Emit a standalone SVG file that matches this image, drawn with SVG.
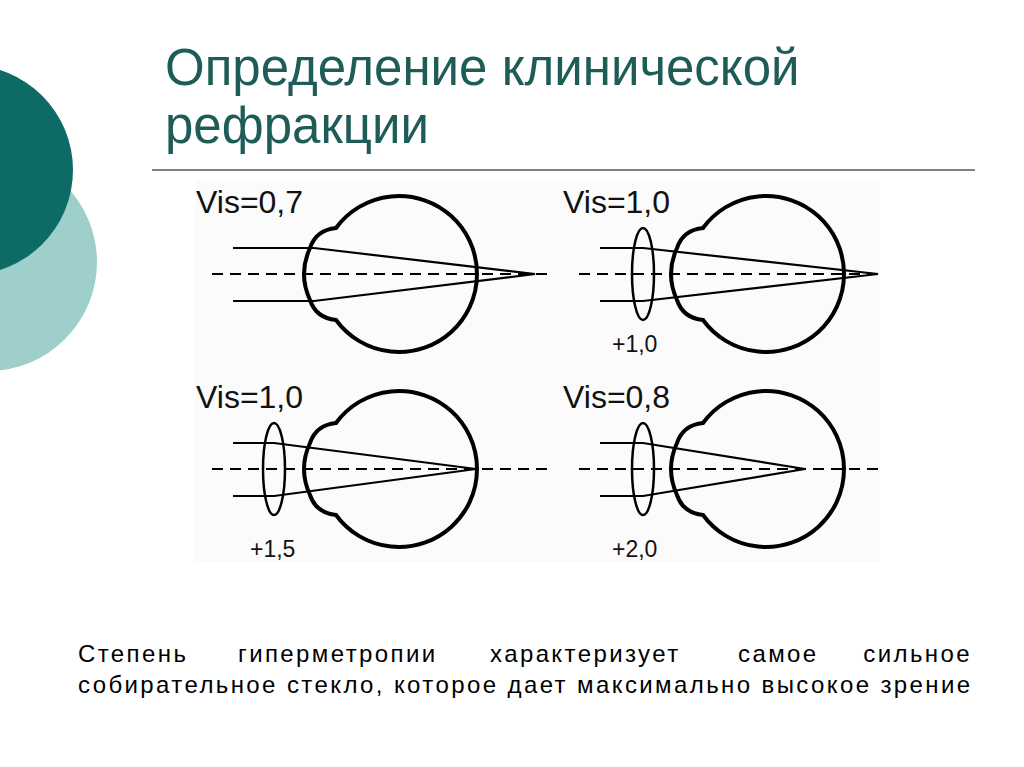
<svg xmlns="http://www.w3.org/2000/svg" width="1024" height="767" viewBox="0 0 1024 767">
<defs>
<style>
.eye{fill:none;stroke:#000;stroke-width:4}
.ray{fill:none;stroke:#000;stroke-width:2.2}
.axis{fill:none;stroke:#000;stroke-width:1.8;stroke-dasharray:11 7}
.vis{font-family:"Liberation Sans",Arial,sans-serif;font-size:32px;fill:#111}
.pw{font-family:"Liberation Sans",Arial,sans-serif;font-size:23px;fill:#111}
.body{font-family:"Liberation Sans",Arial,sans-serif;font-size:24px;fill:#000;letter-spacing:2.4px}
</style>
<g id="eyeShape">
<path class="eye" d="M336,228 A78,78 0 1,1 336,320 Q316,318 310,300 Q298,274 310,248 Q316,230 336,228 Z"/>
</g>
</defs>
<rect width="1024" height="767" fill="#fff"/>
<circle cx="-12" cy="262" r="109" fill="#9fcfcb"/>
<circle cx="-32" cy="170" r="105" fill="#0e6a64"/>
<text x="165" y="85" font-family="Liberation Sans,Arial,sans-serif" font-size="51" fill="#1d5c57">Определение клинической</text>
<text x="165" y="143" font-family="Liberation Sans,Arial,sans-serif" font-size="51" fill="#1d5c57">рефракции</text>
<line x1="152" y1="170" x2="975" y2="170" stroke="#000" stroke-width="1.2"/>
<rect x="195" y="180" width="685" height="382" fill="#fbfbfb"/>
<g id="eye1">
<text class="vis" x="196" y="213">Vis=0,7</text>
<use href="#eyeShape"/>
<line class="axis" x1="212" y1="274" x2="550" y2="274"/>
<polyline class="ray" points="233,248 314,248 535,274 314,301 233,301"/>
</g>
<g id="eye2" transform="translate(367,0)">
<text class="vis" x="196" y="213">Vis=1,0</text>
<use href="#eyeShape"/>
<line class="axis" x1="212" y1="274" x2="513" y2="274"/>
<ellipse class="eye" cx="276" cy="274" rx="11" ry="46" style="stroke-width:2.5"/>
<polyline class="ray" points="233,248 276,248 511,274 276,301 233,301"/>
<text class="pw" x="245" y="352">+1,0</text>
</g>
<g id="eye3" transform="translate(0,195)">
<text class="vis" x="196" y="213">Vis=1,0</text>
<use href="#eyeShape"/>
<line class="axis" x1="212" y1="274" x2="550" y2="274"/>
<ellipse class="eye" cx="274" cy="274" rx="11" ry="46" style="stroke-width:2.5"/>
<polyline class="ray" points="233,248 274,248 476,274 274,301 233,301"/>
<text class="pw" x="250" y="362">+1,5</text>
</g>
<g id="eye4" transform="translate(367,195)">
<text class="vis" x="196" y="213">Vis=0,8</text>
<use href="#eyeShape"/>
<line class="axis" x1="212" y1="274" x2="513" y2="274"/>
<ellipse class="eye" cx="276" cy="274" rx="11" ry="46" style="stroke-width:2.5"/>
<polyline class="ray" points="233,248 276,248 438,274 276,301 233,301"/>
<text class="pw" x="245" y="362">+2,0</text>
</g>
<g class="body">
<text class="body" x="78" y="662">Степень</text>
<text class="body" x="238" y="662">гиперметропии</text>
<text class="body" x="490" y="662">характеризует</text>
<text class="body" x="738" y="662">самое</text>
<text class="body" x="972" y="662" text-anchor="end">сильное</text>
<text class="body" x="78" y="693">собирательное стекло, которое дает максимально высокое зрение</text>
</g>
</svg>
